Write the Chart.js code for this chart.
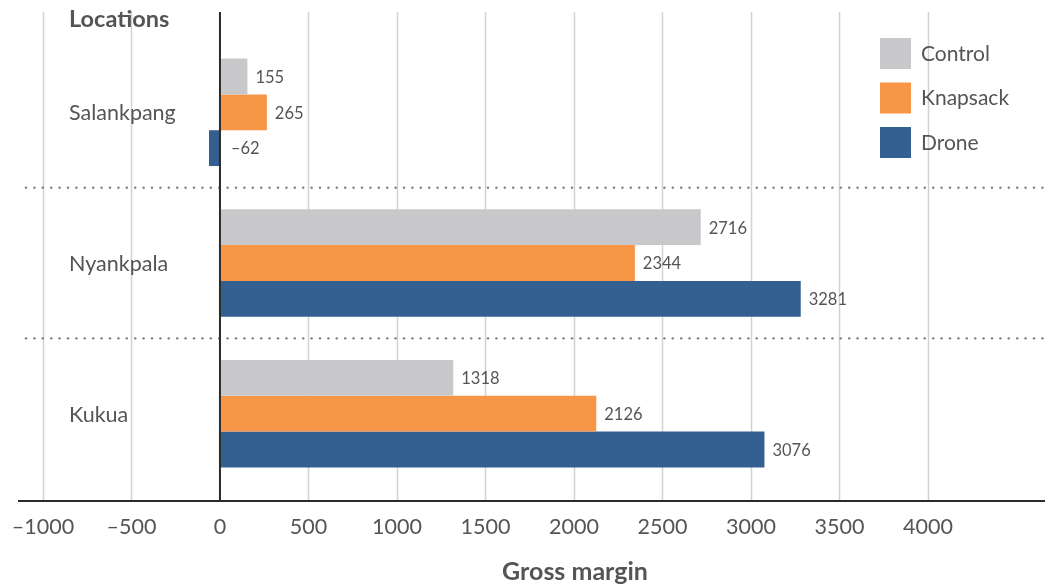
<!DOCTYPE html>
<html>
<head>
<meta charset="utf-8">
<script src="https://cdn.jsdelivr.net/npm/chart.js@4.4.1/dist/chart.umd.min.js"></script>
<style>
  html, body { margin: 0; padding: 0; background: #ffffff; }
  #wrap { width: 1052px; height: 585px; position: relative; }
</style>
</head>
<body>
<div id="wrap"><canvas id="chart" width="1052" height="585"></canvas></div>
<script>
// Gross margin by location and spraying method
const categories = ['Salankpang', 'Nyankpala', 'Kukua'];
const controlValues = [155, 2716, 1318];
const knapsackValues = [265, 2344, 2126];
const droneValues = [-62, 3281, 3076];
const seriesNames = ['Control', 'Knapsack', 'Drone'];
const seriesColors = ['#c8c8ca', '#f79646', '#345f91'];
const tickValues = [-1000, -500, 0, 500, 1000, 1500, 2000, 2500, 3000, 3500, 4000];

const FONT = 'Lato, "Open Sans", sans-serif';
const TEXT = '#555555';

function fmt(v) {
  return v < 0 ? '\u2013' + Math.abs(v) : String(v);
}

const decorations = {
  id: 'decorations',
  beforeDatasetsDraw(chart) {
    const ctx = chart.ctx;
    const x = chart.scales.x;
    const y = chart.scales.y;
    const top = 12, axisY = 500;
    ctx.save();
    // vertical gridlines
    ctx.strokeStyle = '#d2d2d2';
    ctx.lineWidth = 1.5;
    tickValues.forEach(v => {
      if (v === 0) return;
      const px = Math.round(x.getPixelForValue(v)) + 0.5;
      ctx.beginPath();
      ctx.moveTo(px, top);
      ctx.lineTo(px, axisY);
      ctx.stroke();
    });
    // dotted separators between locations
    ctx.fillStyle = '#7a7a7a';
    for (let i = 0; i < categories.length - 1; i++) {
      const sy = (y.getPixelForValue(i) + y.getPixelForValue(i + 1)) / 2;
      for (let dx = 26; dx <= 1046; dx += 8.4) {
        ctx.beginPath();
        ctx.arc(dx, sy, 1.2, 0, Math.PI * 2);
        ctx.fill();
      }
    }
    ctx.restore();
  },
  afterDatasetsDraw(chart) {
    const ctx = chart.ctx;
    const x = chart.scales.x;
    const y = chart.scales.y;
    const zeroX = x.getPixelForValue(0);
    ctx.save();
    // value labels
    ctx.font = '16.5px ' + FONT;
    ctx.fillStyle = TEXT;
    ctx.textBaseline = 'middle';
    ctx.textAlign = 'left';
    chart.data.datasets.forEach((ds, di) => {
      const meta = chart.getDatasetMeta(di);
      meta.data.forEach((bar, i) => {
        const v = ds.data[i];
        const end = Math.max(x.getPixelForValue(v), zeroX);
        ctx.fillText(fmt(v), end + (v < 0 ? 11 : 8), bar.y + 1);
      });
    });
    // zero line and bottom axis line
    ctx.strokeStyle = '#2b2b2b';
    ctx.lineWidth = 2;
    ctx.beginPath();
    ctx.moveTo(zeroX, 12);
    ctx.lineTo(zeroX, 501);
    ctx.stroke();
    ctx.beginPath();
    ctx.moveTo(chart.chartArea.left, 501);
    ctx.lineTo(chart.chartArea.right, 501);
    ctx.stroke();
    // x tick labels
    ctx.font = '21.5px ' + FONT;
    ctx.textAlign = 'center';
    tickValues.forEach(v => {
      ctx.fillText(fmt(v), x.getPixelForValue(v), 527);
    });
    // location labels
    ctx.textAlign = 'left';
    ctx.font = '21.5px ' + FONT;
    categories.forEach((c, i) => {
      ctx.fillText(c, 69, y.getPixelForValue(i) + 1);
    });
    // axis titles
    ctx.font = 'bold 23.5px ' + FONT;
    ctx.fillText('Locations', 69, 19);
    ctx.textAlign = 'center';
    ctx.font = 'bold 25px ' + FONT;
    ctx.fillText('Gross margin', 575, 572);
    // legend
    ctx.textAlign = 'left';
    ctx.font = '21px ' + FONT;
    chart.data.datasets.forEach((ds, di) => {
      const ly = 38 + di * 44.5;
      ctx.fillStyle = ds.backgroundColor;
      ctx.fillRect(880, ly, 31, 31);
      ctx.fillStyle = TEXT;
      ctx.fillText(ds.label, 921, ly + 16);
    });
    ctx.restore();
  }
};

new Chart(document.getElementById('chart'), {
  type: 'bar',
  data: {
    labels: categories,
    datasets: [
      { label: seriesNames[0], data: controlValues, backgroundColor: seriesColors[0] },
      { label: seriesNames[1], data: knapsackValues, backgroundColor: seriesColors[1] },
      { label: seriesNames[2], data: droneValues, backgroundColor: seriesColors[2] }
    ]
  },
  options: {
    indexAxis: 'y',
    responsive: false,
    animation: false,
    layout: { padding: { left: 18, right: 7, top: 37, bottom: 96 } },
    datasets: { bar: { categoryPercentage: 0.713, barPercentage: 1.0, borderWidth: 0 } },
    plugins: { legend: { display: false }, tooltip: { enabled: false } },
    scales: {
      x: {
        type: 'linear',
        display: false,
        min: -1141,
        max: 4661
      },
      y: {
        type: 'category',
        display: false
      }
    }
  },
  plugins: [decorations]
});
</script>
</body>
</html>
